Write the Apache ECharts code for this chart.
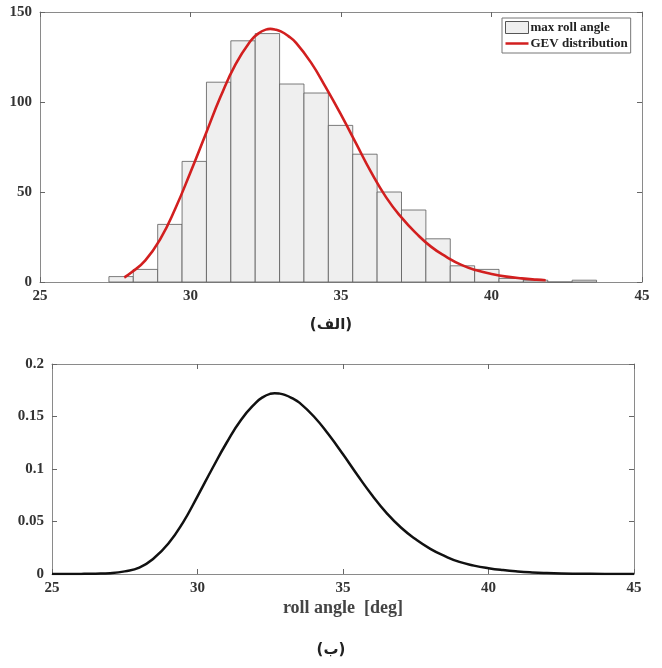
<!DOCTYPE html>
<html>
<head>
<meta charset="utf-8">
<script src="https://cdn.jsdelivr.net/npm/echarts@6/dist/echarts.min.js"></script>
<style>
html,body{margin:0;padding:0;background:#fff;}
#c{width:662px;height:668px;}
</style>
</head>
<body>
<div id="c"></div>
<script>
// ---- data ----
const binEdges = [27.29, 28.10, 28.91, 29.72, 30.53, 31.34, 32.15, 32.96, 33.77, 34.58, 35.39, 36.20, 37.01, 37.82, 38.63, 39.44, 40.25, 41.06, 41.87, 42.68, 43.49];
const binCounts = [3, 7, 32, 67, 111, 134, 138, 110, 105, 87, 71, 50, 40, 24, 9, 7, 2, 1, 0, 1];

const gevX = [27.8, 28, 28.5, 29, 29.5, 30, 30.5, 31, 31.5, 32, 32.25, 32.5, 32.65, 32.8, 33, 33.25, 33.5, 34, 34.5, 35, 35.5, 36, 36.5, 37, 37.5, 38, 38.5, 39, 39.5, 40, 40.5, 41, 41.5, 41.8];
const gevY = [2.5, 4.8, 12, 24, 41, 61, 82, 103, 121, 134, 138, 140.2, 140.6, 140.3, 139.2, 136.6, 133, 122, 108, 93, 77, 61, 47, 36, 27, 19.5, 14, 9.5, 6.5, 4.5, 3, 2, 1.3, 1];

const pdfX = [25, 26, 26.5, 27, 27.5, 28, 28.5, 29, 29.5, 30, 30.5, 31, 31.5, 32, 32.25, 32.5, 32.65, 32.8, 33, 33.25, 33.5, 34, 34.5, 35, 35.5, 36, 36.5, 37, 37.5, 38, 38.5, 39, 39.5, 40, 40.5, 41, 41.5, 42, 42.5, 43, 44, 45];
const pdfY = [0, 0.0001, 0.0003, 0.0008, 0.0025, 0.006, 0.015, 0.029, 0.049, 0.074, 0.100, 0.125, 0.147, 0.163, 0.1685, 0.1716, 0.1722, 0.1719, 0.1706, 0.1675, 0.1632, 0.150, 0.133, 0.114, 0.094, 0.075, 0.058, 0.044, 0.033, 0.024, 0.017, 0.0115, 0.008, 0.0055, 0.0037, 0.0024, 0.0015, 0.0009, 0.0005, 0.0003, 0.0001, 0];

const xTicks = {min: 25, max: 45, interval: 5};
const yTicksTop = {min: 0, max: 150, interval: 50};
const yTicksBottom = {min: 0, max: 0.2, interval: 0.05};

const captionTop = '(الف)';
const captionBottom = '(ب)';
const xTitle = 'roll angle  [deg]';
const seriesNames = ['max roll angle', 'GEV distribution'];

// ---- chart ----
const serif = 'Liberation Serif';
const lblStyle = {fontFamily: serif, fontWeight: 'bold', fontSize: 15, color: '#333'};
const lineCol = '#8a8a8a';

function mkX(gi, pos, showLabel) {
  return {
    type: 'value', gridIndex: gi, position: pos,
    min: xTicks.min, max: xTicks.max, interval: xTicks.interval,
    axisLine: {show: true, onZero: false, lineStyle: {color: lineCol, width: 1}},
    axisTick: {show: true, inside: true, length: 5, lineStyle: {color: '#666'}},
    axisLabel: Object.assign({show: showLabel, margin: 7}, lblStyle),
    splitLine: {show: false}
  };
}
function mkY(gi, pos, t, showLabel) {
  return {
    type: 'value', gridIndex: gi, position: pos,
    min: t.min, max: t.max, interval: t.interval,
    axisLine: {show: true, onZero: false, lineStyle: {color: lineCol, width: 1}},
    axisTick: {show: true, inside: true, length: 5, lineStyle: {color: '#666'}},
    axisLabel: Object.assign({show: showLabel, margin: 8}, lblStyle),
    splitLine: {show: false}
  };
}

const histData = binCounts.map((c, i) => [binEdges[i], binEdges[i + 1], c]);
const gevData = gevX.map((x, i) => [x, gevY[i]]);
const pdfData = pdfX.map((x, i) => [x, pdfY[i]]);

const chart = echarts.init(document.getElementById('c'), null, {renderer: 'canvas'});
chart.setOption({
  animation: false,
  backgroundColor: '#fff',
  grid: [
    {left: 40, top: 12, width: 602, height: 270},
    {left: 52, top: 364, width: 582, height: 210}
  ],
  xAxis: [
    mkX(0, 'bottom', true),
    mkX(0, 'top', false),
    Object.assign(mkX(1, 'bottom', true), {
      name: xTitle, nameLocation: 'middle', nameGap: 25,
      nameTextStyle: {fontFamily: serif, fontWeight: 'bold', fontSize: 18, color: '#444'}
    }),
    mkX(1, 'top', false)
  ],
  yAxis: [
    mkY(0, 'left', yTicksTop, true),
    mkY(0, 'right', yTicksTop, false),
    mkY(1, 'left', yTicksBottom, true),
    mkY(1, 'right', yTicksBottom, false)
  ],
  legend: {
    left: 502, top: 18, orient: 'vertical',
    itemWidth: 23, itemHeight: 12, itemGap: 3,
    padding: [3, 3, 3, 3],
    borderColor: '#777', borderWidth: 1, backgroundColor: '#fff',
    symbolKeepAspect: true,
    textStyle: {fontFamily: serif, fontWeight: 'bold', fontSize: 13, color: '#222', padding: [0, 0, 0, -3]},
    data: [
      {name: seriesNames[0], icon: 'rect', itemStyle: {color: '#efefef', borderColor: '#555', borderWidth: 1}},
      {name: seriesNames[1], icon: 'path://M0,0 L46,0 L46,5 L0,5 Z', itemStyle: {color: '#d21f1f', borderWidth: 0}}
    ]
  },
  graphic: [
    {type: 'text', left: 'center', top: 318, style: {text: captionTop, font: 'bold 15px "DejaVu Sans"', fill: '#222'}},
    {type: 'text', left: 'center', top: 643, style: {text: captionBottom, font: 'bold 15px "DejaVu Sans"', fill: '#222'}}
  ],
  series: [
    {
      name: seriesNames[0], type: 'custom', xAxisIndex: 0, yAxisIndex: 0,
      encode: {x: [0, 1], y: 2},
      itemStyle: {color: '#efefef', borderColor: '#555'},
      renderItem: function (params, api) {
        const p0 = api.coord([api.value(0), api.value(2)]);
        const p1 = api.coord([api.value(1), 0]);
        return {
          type: 'rect',
          shape: {x: p0[0], y: p0[1], width: p1[0] - p0[0], height: p1[1] - p0[1]},
          style: {fill: '#efefef', stroke: '#5a5a5a', lineWidth: 0.8}
        };
      },
      data: histData
    },
    {
      name: seriesNames[1], type: 'line', xAxisIndex: 0, yAxisIndex: 0,
      data: gevData, smooth: 0.5, symbol: 'none',
      lineStyle: {color: '#d21f1f', width: 2.6}, itemStyle: {color: '#d21f1f'}, z: 5
    },
    {
      name: 'pdf', type: 'line', xAxisIndex: 2, yAxisIndex: 2,
      data: pdfData, smooth: 0.5, symbol: 'none',
      lineStyle: {color: '#111', width: 2.5}
    }
  ]
});
</script>
</body>
</html>
